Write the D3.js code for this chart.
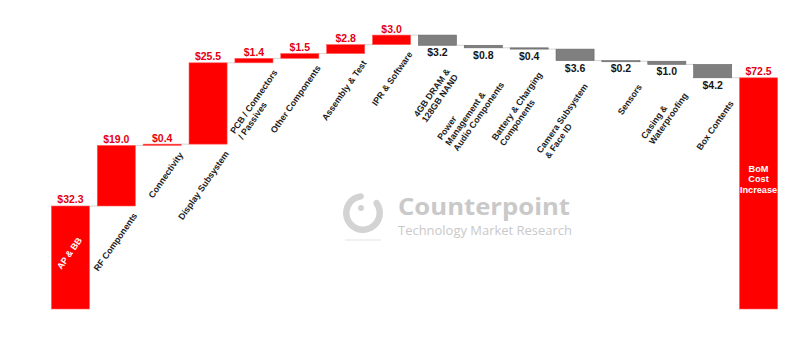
<!DOCTYPE html>
<html>
<head>
<meta charset="utf-8">
<script src="https://cdn.jsdelivr.net/npm/d3@7"></script>
<style>
	body { margin: 0; background: #fff; }
	svg { display: block; font-family: "Liberation Sans", Arial, sans-serif; }
</style>
</head>
<body>
<div id="chart"></div>
<script>
// waterfall: component cost deltas, last bar is the total
var categories = ["AP & BB", "RF Components", "Connectivity", "Display Subsystem",
	"PCB / Connectors / Passives", "Other Components", "Assembly & Test", "IPR & Software",
	"4GB DRAM & 128GB NAND", "Power Management & Audio Components", "Battery & Charging Components",
	"Camera Subsystem & Face ID", "Sensors", "Casing & Waterproofing", "Box Contents", "BoM Cost Increase"];

var labelLines = [["AP & BB"], ["RF Components"], ["Connectivity"], ["Display Subsystem"],
	["PCB / Connectors", "/ Passives"], ["Other Components"], ["Assembly & Test"], ["IPR & Software"],
	["4GB DRAM &", "128GB NAND"], ["Power", "Management &", "Audio Components"], ["Battery & Charging", "Components"],
	["Camera Subsystem", "& Face ID"], ["Sensors"], ["Casing &", "Waterproofing"], ["Box Contents"], ["BoM", "Cost", "Increase"]];

var changes = [32.3, 19.0, 0.4, 25.5, 1.4, 1.5, 2.8, 3.0, -3.2, -0.8, -0.4, -3.6, -0.2, -1.0, -4.2];
var totalValue = 72.5;

var width = 800, height = 355;

var svg = d3.select("#chart").append("svg")
	.attr("width", width)
	.attr("height", height);

// build running totals
var bars = [];
var run = 0;
changes.forEach(function(v, i) {
	var start = run;
	run = run + v;
	bars.push({ name: categories[i], lines: labelLines[i], value: v, y0: Math.min(start, run), y1: Math.max(start, run), end: run, kind: v >= 0 ? "up" : "down" });
});
bars.push({ name: categories[15], lines: labelLines[15], value: totalValue, y0: 0, y1: totalValue, end: totalValue, kind: "total" });

var x = d3.scaleBand()
	.domain(categories)
	.range([47.5, 781.5])
	.paddingInner(0.17)
	.paddingOuter(0.085);

var y = d3.scaleLinear()
	.domain([0, 90])
	.range([309, 22]);

// watermark
var wm = svg.append("g").attr("class", "watermark");
wm.append("path")
	.attr("transform", "translate(363,213)")
	.attr("d", d3.arc().innerRadius(13.5).outerRadius(20).startAngle(0.75).endAngle(2 * Math.PI + 0.05).cornerRadius(3)())
	.attr("fill", "#d3d3d3");
wm.append("circle").attr("cx", 361).attr("cy", 208).attr("r", 3).attr("fill", "#d3d3d3");
wm.append("line").attr("x1", 345).attr("x2", 381).attr("y1", 240).attr("y2", 240)
	.attr("stroke", "#ececec").attr("stroke-width", 1.5);
wm.append("text")
	.attr("x", 398).attr("y", 215)
	.attr("textLength", 172).attr("lengthAdjust", "spacingAndGlyphs")
	.style("font-family", "'Open Sans', sans-serif")
	.style("font-weight", 700)
	.style("font-size", "24px")
	.attr("fill", "#c9c9c9")
	.text("Counterpoint");
wm.append("text")
	.attr("x", 398).attr("y", 235)
	.attr("textLength", 174).attr("lengthAdjust", "spacingAndGlyphs")
	.style("font-family", "'Open Sans', sans-serif")
	.style("font-size", "13px")
	.attr("fill", "#c9c9c9")
	.text("Technology Market Research");

// connectors
var conn = svg.append("g").attr("class", "connectors");
for (var i = 0; i < bars.length - 1; i++) {
	conn.append("line")
		.attr("x1", x(bars[i].name) + x.bandwidth())
		.attr("x2", x(bars[i + 1].name))
		.attr("y1", y(bars[i].end))
		.attr("y2", y(bars[i].end))
		.attr("stroke", "#d6d6d6")
		.attr("stroke-width", 1);
}

// bars
svg.append("g").attr("class", "bars")
	.selectAll("rect")
	.data(bars)
	.enter().append("rect")
	.attr("x", function(d) { return x(d.name); })
	.attr("width", x.bandwidth())
	.attr("y", function(d) { return y(d.y1); })
	.attr("height", function(d) { return Math.max(1.2, y(d.y0) - y(d.y1)); })
	.attr("fill", function(d) { return d.kind == "down" ? "#7f7f7f" : "#ff0000"; })
	.attr("stroke", function(d) { return d.kind == "down" ? "#676767" : "#ff5a5a"; })
	.attr("stroke-width", 0.6);

// value labels
svg.append("g").attr("class", "values")
	.selectAll("text")
	.data(bars)
	.enter().append("text")
	.attr("x", function(d) { return x(d.name) + x.bandwidth() / 2; })
	.attr("y", function(d) { return d.kind == "down" ? y(d.y0) + 11 : y(d.y1) - 2.5; })
	.attr("text-anchor", "middle")
	.style("font-size", "10.5px")
	.style("font-weight", "bold")
	.attr("fill", function(d) { return d.kind == "down" ? "#151515" : "#e3000f"; })
	.text(function(d) { return "$" + Math.abs(d.value).toFixed(1); });

// category labels
var lh = 9.8;
var cats = svg.append("g").attr("class", "cats");
bars.forEach(function(d, i) {
	var cx = x(d.name) + x.bandwidth() / 2;
	if (d.kind == "total") {
		var t = cats.append("text")
			.attr("text-anchor", "middle")
			.style("font-size", "9.2px")
			.style("font-weight", "bold")
			.attr("fill", "#fff");
		d.lines.forEach(function(s, k) {
			t.append("tspan").attr("x", cx).attr("y", 182 + (k - 1) * 10.5).text(s);
		});
		return;
	}
	var outer = cats.append("g");
	var inner = outer.append("g").attr("transform", "rotate(-55)");
	d.lines.forEach(function(s, k) {
		inner.append("text")
			.attr("x", 0)
			.attr("y", k * lh)
			.style("font-size", "8.9px")
			.style("font-weight", "bold")
			.attr("fill", i == 0 ? "#fff" : "#1c1c1c")
			.text(s);
	});
	var bb = outer.node().getBBox();
	var tx, ty;
	if (i == 0) {
		// inside the first bar
		tx = cx - 1 - (bb.x + bb.width / 2);
		ty = (y(d.y0) + y(d.y1)) / 2 - 4 - (bb.y + bb.height / 2);
	} else {
		// right edge of the label block sits just past the bar's right edge
		var gap = d.kind == "down" ? 21 : 5;
		tx = x(d.name) + x.bandwidth() + 4 - (bb.x + bb.width);
		ty = y(d.y0) + gap - bb.y;
		// keep clear of the previous bar if it reaches down beside the label
		var prev = bars[i - 1];
		var prevRight = x(prev.name) + x.bandwidth();
		if (y(prev.y0) > ty + bb.y && tx + bb.x < prevRight + 1) {
			tx = prevRight + 1 - bb.x;
		}
	}
	outer.attr("transform", "translate(" + tx + "," + ty + ")");
});
</script>
</body>
</html>
